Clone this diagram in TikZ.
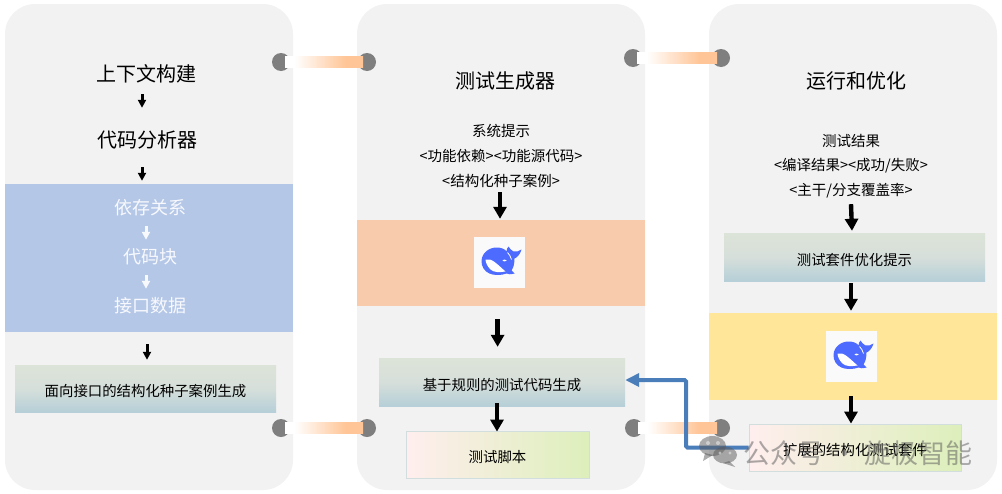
\documentclass[tikz,border=0pt]{standalone}
\usepackage{fontspec}
\setmainfont{Noto Sans CJK SC}
\usetikzlibrary{arrows.meta}

\definecolor{panelgray}{HTML}{F2F2F2}
\definecolor{bandblue}{HTML}{B4C7E7}
\definecolor{bandorange}{HTML}{F8CBAD}
\definecolor{bandyellow}{HTML}{FFE699}
\definecolor{dotgray}{HTML}{7F7F7F}
\definecolor{barorange}{HTML}{FFC596}
\definecolor{linkblue}{HTML}{4A7EBB}
\definecolor{whaleblue}{HTML}{4D6BFE}
\definecolor{greentop}{HTML}{DCE3D8}
\definecolor{greenmid}{HTML}{D6DFDA}
\definecolor{greenlow}{HTML}{B6CFD8}
\definecolor{pinkedge}{HTML}{D2DEDD}
\definecolor{pinkleft}{HTML}{FFEEEE}
\definecolor{pinkright}{HTML}{DDEFBB}
\definecolor{logowhite}{HTML}{FAFAFA}

\pgfdeclarehorizontalshading{barfade}{100bp}{color(0bp)=(white); color(31bp)=(white); color(64bp)=(barorange); color(100bp)=(barorange)}

\tikzset{
  panel/.style={fill=panelgray,rounded corners=30,minimum width=288,minimum height=486,inner sep=0},
  band/.style={minimum width=288,inner sep=0},
  headtext/.style={inner sep=0,text height=17.5,text depth=2.5,font=\fontsize{20}{24}\selectfont},
  whitetext/.style={inner sep=0,text height=15.8,text depth=2.2,text=white!90!bandblue,font=\fontsize{18}{22}\selectfont},
  smalltext/.style={inner sep=0,text height=12,text depth=1,font=\fontsize{14.5}{17}\selectfont},
  boxtext/.style={inner sep=0,text height=17,text depth=1,font=\fontsize{14.4}{18}\selectfont},
  greenbox/.style={boxtext,top color=greentop,bottom color=greenlow,middle color=greenmid},
  pinkbox/.style={boxtext,draw=pinkedge,line width=.8,left color=pinkleft,right color=pinkright},
  logobox/.style={fill=logowhite,minimum width=51,minimum height=51,inner sep=0},
  dot/.style={circle,fill=dotgray,minimum size=18,inner sep=0},
  smallarrow/.style={line width=3,-{Triangle[width=8,length=8]}},
  bigarrow/.style={line width=4.4,-{Triangle[width=13,length=12]}},
}

\newcommand{\whale}[1]{
  \begin{scope}[shift={(#1)}]
  \fill [whaleblue] (-18,-1) .. controls (-18,-10) and (-10,-15) .. (-3,-15)
    .. controls (1,-15) and (5,-14) .. (7,-11) .. controls (7,-13) and (8,-15) .. (9,-16)
    .. controls (10,-14) and (12,-12) .. (14,-11) .. controls (17,-11) and (20,-11) .. (22,-13)
    .. controls (21,-9) and (18,-5) .. (15,-4) .. controls (15,1) and (14,5) .. (12,8)
    .. controls (13,9) and (14,10) .. (15,11) .. controls (11,12) and (9,12) .. (7,11)
    .. controls (2,13) and (-6,13) .. (-10,11) .. controls (-15,9) and (-18,4) .. (-18,-1) -- cycle;
  \fill [white] (-14,-3) .. controls (-8,-5) and (-2,2) .. (6,9)
    .. controls (0,10) and (-6,10) .. (-9,7) .. controls (-12,4) and (-14,0) .. (-14,-3) -- cycle;
  \fill [white] (5,-2) ellipse (2 and .8);
  \draw [white,line width=.8] (8,-10) .. controls (10,-8) and (11,-6) .. (12,-3);
  \end{scope}
}

\begin{document}
\begin{tikzpicture}[x=1pt,y=-1pt]

\useasboundingbox (0,0) rectangle (1002,493);

\node [panel] (left) at (149,247) {};
\node [panel] (middle) at (501,247) {};
\node [panel] (right) at (853,247) {};

\node [band,fill=bandblue,minimum height=148] (depband) at (149,258) {};
\node [band,fill=bandorange,minimum height=86] (modelband) at (501,263) {};
\node [band,fill=bandyellow,minimum height=87] (optband) at (853,356.5) {};

\node [logobox] (logomid) at (499.5,262.5) {};
\node [logobox] (logoright) at (851.5,356.5) {};
\whale{logomid}
\whale{logoright}

\node [dot] (dota) at (281,62) {};
\node [dot] (dotb) at (367,62) {};
\node [dot] (dotc) at (633,58) {};
\node [dot] (dotd) at (721,58) {};
\node [dot] (dote) at (281,428) {};
\node [dot] (dotf) at (367,428) {};
\node [dot] (dotg) at (634,428) {};
\node [dot] (doth) at (721,428) {};

\shade [shading=barfade] ([xshift=4,yshift=-5.5]dota.center) rectangle ([xshift=-4,yshift=5.5]dotb.center);
\shade [shading=barfade] ([xshift=4,yshift=-5.5]dotc.center) rectangle ([xshift=-4,yshift=5.5]dotd.center);
\shade [shading=barfade] ([xshift=4,yshift=-5.5]dote.center) rectangle ([xshift=-4,yshift=5.5]dotf.center);
\shade [shading=barfade] ([xshift=4,yshift=-5.5]dotg.center) rectangle ([xshift=-4,yshift=5.5]doth.center);

\node [headtext] (context) at (146,74) {上下文构建};
\node [headtext] (analyzer) at (147,140) {代码分析器};
\node [whitetext] (deps) at (150,208) {依存关系};
\node [whitetext] (blocks) at (150,257) {代码块};
\node [whitetext] (ifdata) at (150,306) {接口数据};
\node [greenbox,minimum width=261,minimum height=47] (seed) at (145.5,388.5) {面向接口的结构化种子案例生成};

\node [headtext] (testgen) at (505,81) {测试生成器};
\node [smalltext] (sysprompt) at (501,131) {系统提示};
\node [smalltext] (funcdep) at (501,156) {<功能依赖><功能源代码>};
\node [smalltext] (seedcase) at (501,181) {<结构化种子案例>};
\node [greenbox,minimum width=246,minimum height=48] (rulegen) at (502,382) {基于规则的测试代码生成};
\node [pinkbox,minimum width=183,minimum height=47] (script) at (497.5,454.5) {测试脚本};

\node [headtext] (runopt) at (856,81) {运行和优化};
\node [smalltext] (result) at (851,141) {测试结果};
\node [smalltext] (compile) at (851,165) {<编译结果><成功/失败>};
\node [smalltext] (coverage) at (851,190) {<主干/分支覆盖率>};
\node [greenbox,minimum width=261,minimum height=48] (optprompt) at (854.5,257) {测试套件优化提示};
\node [pinkbox,minimum width=212,minimum height=47] (suite) at (855,447.5) {扩展的结构化测试套件};

\draw [smallarrow] ([xshift=-4,yshift=-10]context.south) -- ([xshift=-5,yshift=22]analyzer.north);
\draw [smallarrow] ([xshift=-5,yshift=-17]analyzer.south) -- ([xshift=-7,yshift=3]depband.north);
\draw [smallarrow,white!90!bandblue] ([xshift=-4,yshift=-9]deps.south) -- ([xshift=-4,yshift=8]blocks.north);
\draw [smallarrow,white!90!bandblue] ([xshift=-4,yshift=-9]blocks.south) -- ([xshift=-4,yshift=8]ifdata.north);
\draw [smallarrow] ([xshift=-2,yshift=-12]depband.south) -- ([xshift=1.5,yshift=5]seed.north);

\draw [bigarrow] ([xshift=-1,yshift=-4.5]seedcase.south) -- ([xshift=-1,yshift=1]modelband.north);
\draw [bigarrow] ([xshift=-3.4,yshift=-13]modelband.south) -- ([xshift=-4.4,yshift=11]rulegen.north);
\draw [bigarrow] ([xshift=-5,yshift=3]rulegen.south) -- ([xshift=-.5,yshift=-1]script.north);

\draw [bigarrow] ([yshift=-7.5]coverage.south) -- ([xshift=-2.5,yshift=2]optprompt.north);
\draw [bigarrow] ([xshift=-3.5,yshift=-2]optprompt.south) -- ([xshift=-2,yshift=2]optband.north);
\draw [bigarrow] ([xshift=-2,yshift=4]optband.south) -- ([xshift=-4]suite.north);

\coordinate (turn) at (686,380);
\draw [linkblue,line width=4,rounded corners=1.5,-{Triangle[width=13,length=14]}] (suite.west) -- (turn |- suite.west) -- (turn) -- (turn -| rulegen.east);

\begin{scope}[opacity=.5]
\fill [gray!70!black] (712.5,446) ellipse (13.5 and 10);
\fill [gray!70!black] (705,453) -- (703,461) -- (713,455) -- cycle;
\fill [panelgray] (708,443) circle (2) (718,443) circle (2);
\fill [gray!70!black] (725,455) ellipse (12 and 8.5);
\fill [gray!70!black] (729,461) -- (735,467) -- (723,463) -- cycle;
\fill [panelgray] (720,453) circle (1.6) (730,453) circle (1.6);
\node [inner sep=0,text=gray!70!black,font=\fontsize{27}{30}\selectfont] (mark) at (858,453) {公众号 · 旋极智能};
\end{scope}

\end{tikzpicture}
\end{document}
